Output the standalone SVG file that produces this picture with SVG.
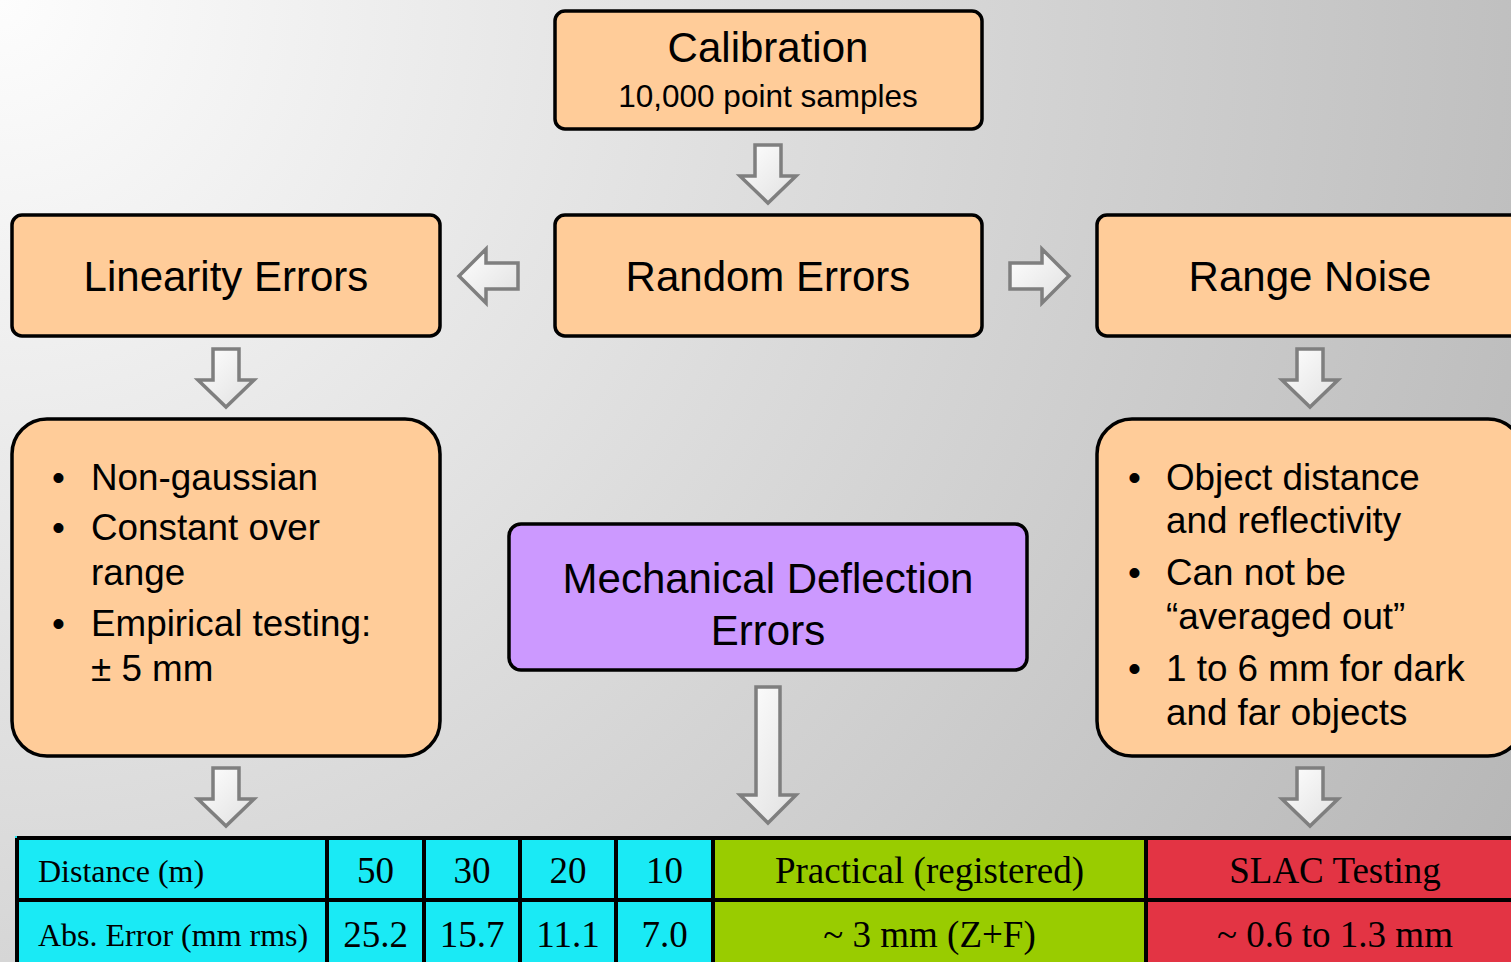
<svg xmlns="http://www.w3.org/2000/svg" width="1511" height="962" viewBox="0 0 1511 962">
<defs>
<radialGradient id="bg" cx="0" cy="0" r="1750" gradientUnits="userSpaceOnUse">
<stop offset="0" stop-color="#fdfdfd"/>
<stop offset="1" stop-color="#b6b6b6"/>
</radialGradient>
<linearGradient id="af" x1="0" y1="0" x2="1" y2="1">
<stop offset="0" stop-color="#ffffff"/>
<stop offset="1" stop-color="#e0e0e0"/>
</linearGradient>
</defs>
<style>
.box{fill:#ffcc99;stroke:#000;stroke-width:3.5}
.mech{fill:#cc99ff;stroke:#000;stroke-width:3.5}
.arr{fill:url(#af);stroke:#7f7f7f;stroke-width:3.5;stroke-linejoin:miter}
.s{font-family:"Liberation Sans",Arial,sans-serif;fill:#000}
.t{font-family:"Liberation Serif","Times New Roman",serif;fill:#000;font-size:37px}
.grid{stroke:#000;stroke-width:4;fill:none}
</style>
<rect width="1511" height="962" fill="url(#bg)"/>

<g id="calibration">
<rect class="box" x="555" y="11" width="427" height="118" rx="10"/>
<text class="s" x="768" y="62" font-size="42" text-anchor="middle">Calibration</text>
<text class="s" x="768" y="107" font-size="31.5" text-anchor="middle">10,000 point samples</text>
</g>
<g id="linearity">
<rect class="box" x="12" y="215" width="428" height="121" rx="10"/>
<text class="s" x="226" y="291" font-size="42" text-anchor="middle">Linearity Errors</text>
</g>
<g id="random">
<rect class="box" x="555" y="215" width="427" height="121" rx="10"/>
<text class="s" x="768" y="291" font-size="42" text-anchor="middle">Random Errors</text>
</g>
<g id="rangenoise">
<rect class="box" x="1097" y="215" width="426" height="121" rx="10"/>
<text class="s" x="1310" y="291" font-size="42" text-anchor="middle">Range Noise</text>
</g>
<g id="linearity-details">
<rect class="box" x="12" y="419" width="428" height="337" rx="35"/>
<g class="s" font-size="36.8">
<text x="52" y="490">•</text><text x="91" y="490">Non-gaussian</text>
<text x="52" y="540">•</text><text x="91" y="540">Constant over</text>
<text x="91" y="585">range</text>
<text x="52" y="636">•</text><text x="91" y="636">Empirical testing:</text>
<text x="91" y="681">± 5 mm</text>
</g>
</g>
<g id="rangenoise-details">
<rect class="box" x="1097" y="419" width="426" height="337" rx="35"/>
<g class="s" font-size="36.8">
<text x="1128" y="490">•</text><text x="1166" y="490">Object distance</text>
<text x="1166" y="533">and reflectivity</text>
<text x="1128" y="585">•</text><text x="1166" y="585">Can not be</text>
<text x="1166" y="629">“averaged out”</text>
<text x="1128" y="681">•</text><text x="1166" y="681">1 to 6 mm for dark</text>
<text x="1166" y="725">and far objects</text>
</g>
</g>
<g id="mechanical">
<rect class="mech" x="509" y="524" width="518" height="146" rx="12"/>
<text class="s" x="768" y="593" font-size="42" text-anchor="middle">Mechanical Deflection</text>
<text class="s" x="768" y="645" font-size="42" text-anchor="middle">Errors</text>
</g>

<g id="connectors">
<path class="arr" d="M755,145 H781 V176 H796 L768,203 L740,176 H755 Z"/>
<path class="arr" d="M518,263 V289 H486 V303 L459,276 L486,249 V263 Z"/>
<path class="arr" d="M1010,263 V289 H1042 V303 L1069,276 L1042,249 V263 Z"/>
<path class="arr" d="M213,349 H239 V380 H254 L226,407 L198,380 H213 Z"/>
<path class="arr" d="M1297,349 H1323 V380 H1338 L1310,407 L1282,380 H1297 Z"/>
<path class="arr" d="M213,768 H239 V799 H254 L226,826 L198,799 H213 Z"/>
<path class="arr" d="M1297,768 H1323 V799 H1338 L1310,826 L1282,799 H1297 Z"/>
<path class="arr" d="M756,687 H780 V795 H796 L768,823 L740,795 H756 Z"/>
</g>

<g id="table">
<rect x="15" y="836" width="698" height="130" fill="#1aeaf5"/>
<rect x="713" y="836" width="433" height="130" fill="#99cc00"/>
<rect x="1146" y="836" width="370" height="130" fill="#e33444"/>
<path class="grid" d="M17,838 H1515 M17,838 V966 M17,900 H1515 M327,838 V966 M424,838 V966 M520,838 V966 M616,838 V966 M713,838 V966 M1146,838 V966"/>
<g class="t">
<text x="38" y="882" font-size="32">Distance (m)</text>
<text x="38" y="946" font-size="32">Abs. Error (mm rms)</text>
<text x="375.5" y="883" text-anchor="middle">50</text>
<text x="472" y="883" text-anchor="middle">30</text>
<text x="568" y="883" text-anchor="middle">20</text>
<text x="664.5" y="883" text-anchor="middle">10</text>
<text x="375.5" y="947" text-anchor="middle">25.2</text>
<text x="472" y="947" text-anchor="middle">15.7</text>
<text x="568" y="947" text-anchor="middle">11.1</text>
<text x="664.5" y="947" text-anchor="middle">7.0</text>
<text x="929.5" y="883" text-anchor="middle">Practical (registered)</text>
<text x="929.5" y="947" text-anchor="middle">~ 3 mm (Z+F)</text>
<text x="1335" y="883" text-anchor="middle">SLAC Testing</text>
<text x="1335" y="947" text-anchor="middle">~ 0.6 to 1.3 mm</text>
</g>
</g>
</svg>
